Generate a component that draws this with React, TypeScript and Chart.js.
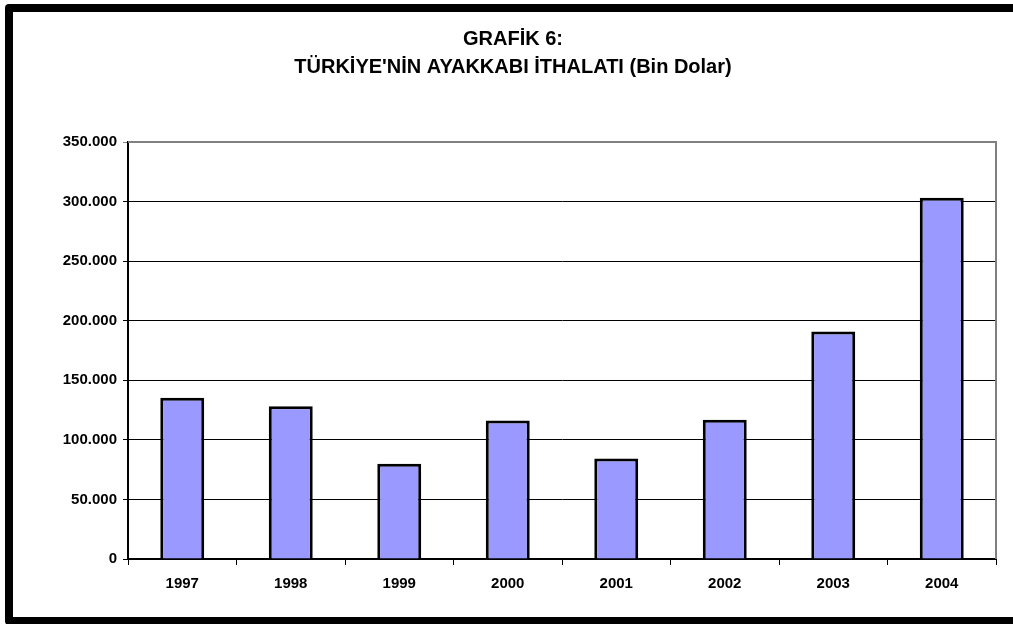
import React, { useEffect, useRef } from "react";
import { Chart, registerables } from "chart.js";

Chart.register(...registerables);

const years = ["1997", "1998", "1999", "2000", "2001", "2002", "2003", "2004"];
const imports = [135300, 128300, 79900, 116200, 84400, 116800, 191000, 303200];
const titleLines = ["GRAFİK 6:", "TÜRKİYE'NİN AYAKKABI İTHALATI (Bin Dolar)"];
const yMin = 0;
const yMax = 350000;
const yStep = 50000;

const FONT = "'Liberation Sans', Arial, sans-serif";

function fmt(v: number): string {
  const s = Math.round(v).toString();
  return s.replace(/\B(?=(\d{3})+(?!\d))/g, ".");
}

const framePlugin = {
  id: "frame",
  afterDraw(chart: any) {
    const { ctx, chartArea } = chart;
    ctx.save();
    ctx.strokeStyle = "#808080";
    ctx.lineWidth = 2;
    ctx.beginPath();
    ctx.moveTo(chartArea.left, chartArea.top);
    ctx.lineTo(chartArea.right, chartArea.top);
    ctx.lineTo(chartArea.right, chartArea.bottom);
    ctx.stroke();
    ctx.strokeStyle = "#000";
    ctx.lineWidth = 8;
    ctx.lineJoin = "round";
    ctx.strokeRect(9, 8, 1030, 613);
    ctx.restore();
  },
};

export default function App() {
  const ref = useRef<HTMLCanvasElement | null>(null);
  useEffect(() => {
    if (!ref.current) return;
    const chart = new Chart(ref.current, {
      type: "bar",
      data: {
        labels: years,
        datasets: [
          {
            data: imports,
            backgroundColor: "#9999FF",
            borderColor: "#000000",
            borderWidth: 3,
            barPercentage: 0.405,
            categoryPercentage: 1,
          },
        ],
      },
      options: {
        responsive: false,
        animation: false,
        layout: { padding: { left: 30, right: 17, top: 25, bottom: 10 } },
        plugins: {
          legend: { display: false },
          tooltip: { enabled: false },
          title: {
            display: true,
            text: titleLines,
            color: "#000",
            font: { family: FONT, size: 20, weight: "bold", lineHeight: 1.4 },
            padding: { top: 0, bottom: 61 },
          },
        },
        scales: {
          x: {
            grid: {
              display: true,
              drawOnChartArea: false,
              drawTicks: true,
              tickLength: 6,
              color: "#000",
              offset: true,
            },
            border: { display: true, color: "#000", width: 2 },
            ticks: {
              color: "#000",
              font: { family: FONT, size: 15, weight: "bold" },
              padding: 10,
              maxRotation: 0,
            },
            afterFit(scale: any) {
              scale.height = 55;
            },
          },
          y: {
            min: yMin,
            max: yMax,
            ticks: {
              stepSize: yStep,
              color: "#000",
              font: { family: FONT, size: 15, weight: "bold" },
              padding: 6,
              callback: (v: any) => fmt(Number(v)),
            },
            grid: {
              color: (c: any) => (c.tick && c.tick.value === yMax ? "#808080" : "#000"),
              lineWidth: 1,
              tickLength: 5,
            },
            border: { display: true, color: "#000", width: 2 },
            afterFit(scale: any) {
              scale.width = 98;
            },
          },
        },
      },
      plugins: [framePlugin],
    });
    return () => chart.destroy();
  }, []);
  return (
    <div style={{ position: "fixed", left: 0, top: 0, width: 1013, height: 624, background: "#fff" }}>
      <canvas ref={ref} width={1013} height={624} />
    </div>
  );
}
